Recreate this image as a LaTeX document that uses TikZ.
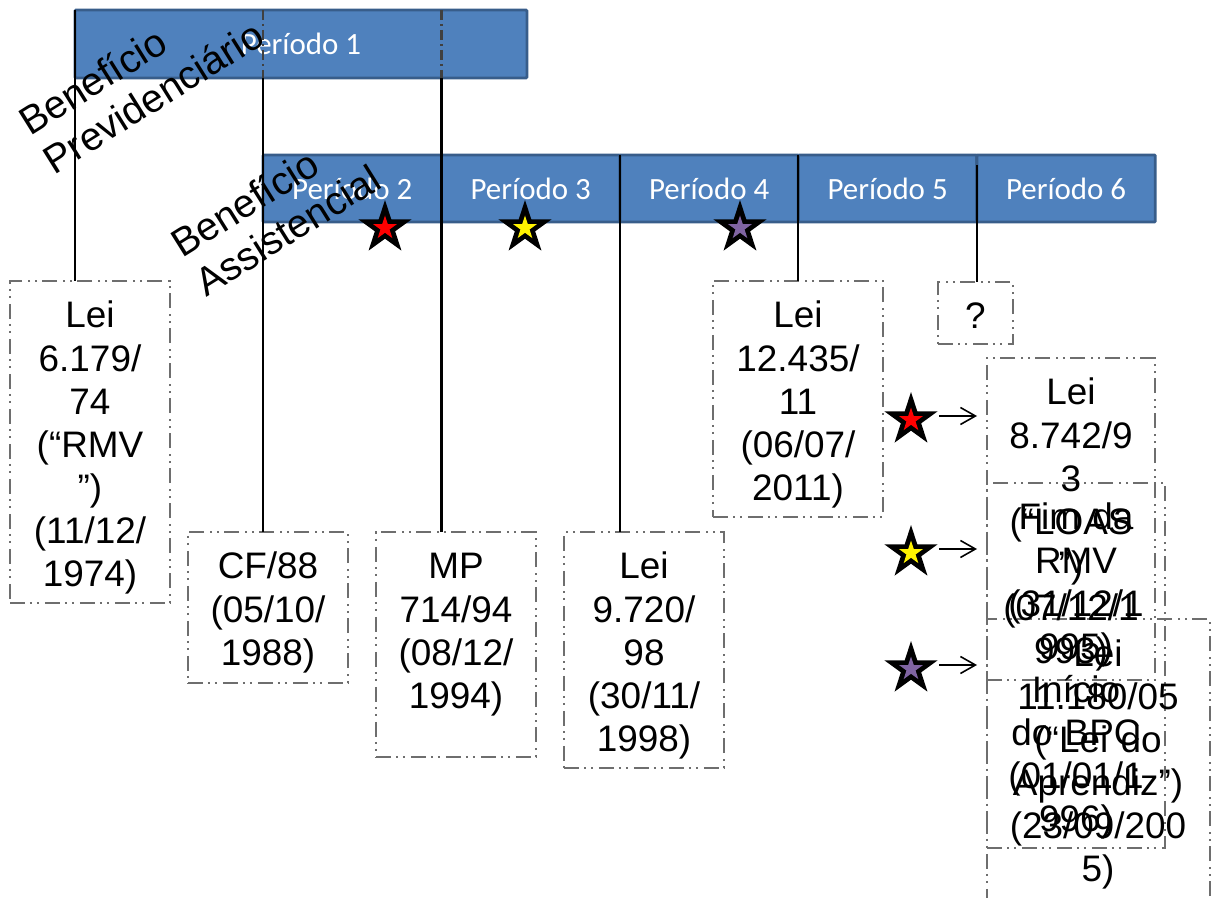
\documentclass[tikz,border=0pt]{standalone}
\usepackage{fontspec}
\setmainfont{Liberation Sans}
\newfontfamily\barfont{Carlito}
\usepackage{tikz}
\usetikzlibrary{shapes.geometric,arrows.meta,positioning,fit}

\definecolor{barfill}{HTML}{4F81BD}
\definecolor{barline}{HTML}{385D8A}
\definecolor{boxline}{HTML}{6E6E6E}
\definecolor{starpurple}{HTML}{8064A2}

\begin{document}
\begin{tikzpicture}[x=0.02cm, y=-0.02cm,
  every node/.style={font=\fontsize{21}{24.5}\selectfont},
  bar/.style ={draw=barline, fill=barfill, line width=1.6pt, inner sep=0pt, outer sep=0pt,
               rounded corners=0.6pt, text=white, font=\barfont\fontsize{17.6}{20}\selectfont},
  seg/.style ={bar, minimum width=3.57cm, minimum height=1.34cm},
  lbox/.style={draw=boxline, line width=0.9pt, inner sep=0pt, outer sep=0pt,
               dash pattern=on 0.3cm off 0.1cm on 0.04cm off 0.1cm on 0.04cm off 0.12cm},
  ltxt/.style={anchor=base, align=center, text width=5cm, inner sep=0pt},
  rlab/.style={anchor=base west, align=left, text width=8cm, inner sep=0pt, rotate=32,
               font=\fontsize{22.5}{26}\selectfont},
  conn/.style={draw=black, line width=1.2pt},
  connb/.style={draw=black!75, line width=1.2pt, dash pattern=on 0.2cm off 0.08cm on 0.04cm off 0.08cm},
  sto/.style ={star, star points=5, star point ratio=2.618, fill=black, minimum size=1.12cm, inner sep=0pt},
  sti/.style ={star, star points=5, star point ratio=2.618, minimum size=0.5cm, inner sep=0pt},
  arr/.style ={-{Straight Barb[length=3mm,width=3.4mm]}, line width=0.9pt},
]
\useasboundingbox (0,0) rectangle (1211,898);

%% ─── Period bars ─────────────────────────────────────────────────────────────
\node[bar, minimum width=9.04cm, minimum height=1.36cm, anchor=north west] (per1) at (75,10) {Período 1};
\node[seg, anchor=north west] (per2) at (263,155) {Período 2};
\foreach \i/\j in {3/2, 4/3, 5/4, 6/5} {
  \node[seg, right=0pt of per\j] (per\i) {Período \i};
}

%% ─── Law boxes ───────────────────────────────────────────────────────────────
\node[lbox, fit={(10,281) (170,603)}]   (b1) {};
\node[lbox, fit={(188,532) (348,683)}]  (b2) {};
\node[lbox, fit={(376,532) (536,757)}]  (b3) {};
\node[lbox, fit={(564,532) (724,768)}]  (b4) {};
\node[lbox, fit={(713,281) (883,517)}]  (b5) {};
\node[lbox, fit={(938,282) (1013,344)}] (b6) {};
\node[lbox, fit={(987,358) (1155,680)}] (b7) {};
\node[lbox, fit={(987,483) (1165,848)}] (b8) {};
\node[lbox, fit={(987,619) (1210,918)}] (b9) {};

\node[ltxt] (t1) at (90,328)    {Lei\\6.179/\\74\\(“RMV\\”)\\(11/12/\\1974)};
\node[ltxt] (t2) at (268,579)   {CF/88\\(05/10/\\1988)};
\node[ltxt] (t3) at (456,579)   {MP\\714/94\\(08/12/\\1994)};
\node[ltxt] (t4) at (644,579)   {Lei\\9.720/\\98\\(30/11/\\1998)};
\node[ltxt] (t5) at (798,328)   {Lei\\12.435/\\11\\(06/07/\\2011)};
\node[ltxt] (t6) at (975.5,329) {?};
\node[ltxt] (t7) at (1071,405)  {Lei\\8.742/9\\3\\(“LOAS\\”)\\(07/12/1\\993)};
\node[ltxt] (t8) at (1076,530)  {Fim da\\RMV\\(31/12/1\\995)\\Início\\do BPC\\(01/01/1\\996)};
\node[ltxt] (t9) at (1098,666)  {Lei\\11.180/05\\(“Lei do\\Aprendiz”)\\(23/09/200\\5)};

%% ─── Drop lines from the bars ────────────────────────────────────────────────
\draw[conn]  (per1.north west) -- (per1.north west |- b1.north);
\draw[connb] (per2.north west |- per1.north) -- (per2.north west |- per1.south);
\draw[conn]  (per2.north west |- per1.south) -- (per2.north west |- b2.north);
\draw[connb] (per3.north west |- per1.north) -- (per3.north west |- per1.south);
\draw[conn]  (per3.north west |- per1.south) -- (per3.north west |- b3.north);
\draw[conn]  (per4.north west) -- (per4.north west |- b4.north);
\draw[conn]  (per5.north west) -- (per5.north west |- b5.north);
\draw[conn]  ([yshift=-0.2cm]per6.north west) -- (per6.north west |- b6.north);

%% ─── Stars (on the bar, and the legend on the right) ─────────────────────────
\foreach \n/\x/\y/\c in {sr/385/228/red, sy/525/228/yellow, sp/740/228/starpurple,
                         ar/911/420/red, ay/911/553/yellow, ap/911/669/starpurple} {
  \node[sto] (\n) at (\x,\y) {};
  \node[sti, fill=\c] (\n-in) at (\x,\y) {};
}
\foreach \n in {ar, ay, ap} {
  \draw[arr] ([xshift=0.56cm, yshift=0.08cm]\n.center) -- ++(38,0);
}

%% ─── Slanted labels ──────────────────────────────────────────────────────────
\node[rlab] (lprev) at (30,137)  {Benefício\\Previdenciário};
\node[rlab] (lassi) at (182,259) {Benefício\\Assistencial};

\end{tikzpicture}
\end{document}
